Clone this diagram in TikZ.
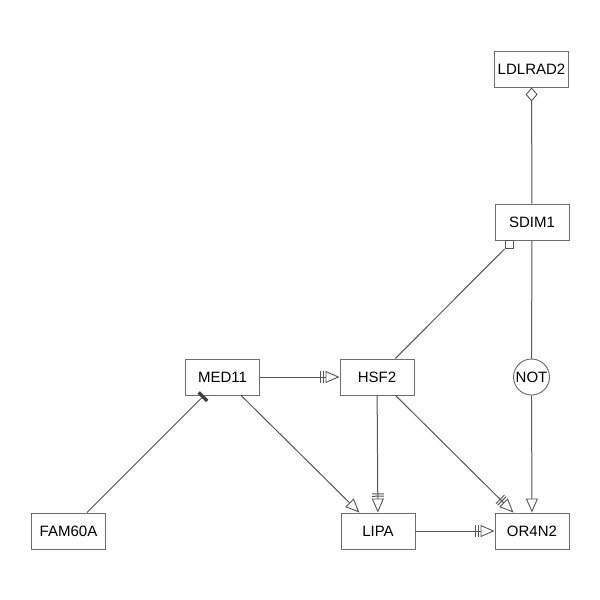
\documentclass[tikz,border=0pt]{standalone}
\usepackage{fontspec}
\setmainfont{Liberation Sans}
\usetikzlibrary{arrows.meta}
\definecolor{edgegray}{HTML}{555555}
\definecolor{boxgray}{HTML}{6E6E6E}
\definecolor{inhib}{HTML}{3F3F3F}
\begin{document}
\begin{tikzpicture}[x=1pt,y=-1pt,
  gene/.style={draw=boxgray,line width=0.95pt,fill=white,minimum width=74pt,minimum height=36pt,inner sep=0pt,font=\fontsize{15}{17}\selectfont},
  notgate/.style={draw=boxgray,line width=0.95pt,fill=white,circle,minimum size=36pt,inner sep=0pt,font=\fontsize{15}{17}\selectfont},
  link/.style={draw=edgegray,line width=1pt},
  activ/.style={link,-{Triangle[open,length=14pt,width=12pt,line width=0.9pt]}},
  bactiv/.style={link,-{Bar[width=12pt,line width=1pt,sep=1.4pt] Bar[width=12pt,line width=1pt,sep=1.8pt] Triangle[open,length=14pt,width=12pt,line width=0.9pt]}},
  inhibit/.style={link,-{Bar[width=12pt,line width=3.4pt,color=inhib]}},
  partof/.style={link,-{Diamond[open,length=14pt,width=12pt,line width=0.9pt]}},
  sqtip/.style={draw=edgegray,line width=0.9pt,fill=white,rectangle,minimum size=8pt,inner sep=0pt}
]
\useasboundingbox (0,0) rectangle (600,600);

% gene boxes
\node[gene] (ldl)  at (531.5,69)  {LDLRAD2};
\node[gene] (sdim) at (532,222)   {SDIM1};
\node[gene] (med)  at (222.5,377) {MED11};
\node[gene] (hsf)  at (377,377)   {HSF2};
\node[notgate] (nt) at (531.5,377) {NOT};
\node[gene] (fam)  at (68.5,531)  {FAM60A};
\node[gene] (lipa) at (378,531)   {LIPA};
\node[gene] (or)   at (532,531)   {OR4N2};

% upright square end marker below SDIM1
\node[sqtip] (sq) at (509,244.5) {};

% interactions
\draw[partof]  (sdim) -- (ldl);
\draw[link]    (hsf) -- (sq);
\draw[link]    (sdim) -- (nt);
\draw[activ]   (nt) -- (or);
\draw[bactiv]  (med) -- (hsf);
\draw[inhibit] (fam) -- (med);
\draw[activ]   (med) -- (lipa);
\draw[bactiv]  (hsf) -- (lipa);
\draw[bactiv]  (hsf) -- (or);
\draw[bactiv]  (lipa) -- (or);
\end{tikzpicture}
\end{document}
